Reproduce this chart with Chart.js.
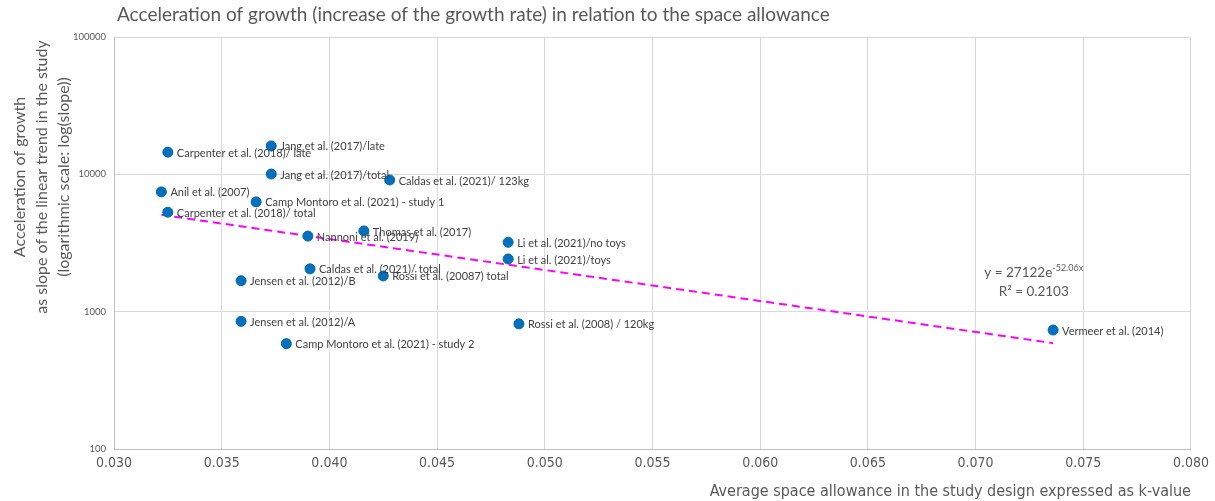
<!DOCTYPE html>
<html>
<head>
<meta charset="utf-8">
<script src="https://cdn.jsdelivr.net/npm/chart.js@4"></script>
<style>
  html, body { margin: 0; padding: 0; background: #fff; }
  #wrap { width: 1215px; height: 501px; }
</style>
</head>
<body>
<div id="wrap"><canvas id="myChart" width="1215" height="501"></canvas></div>
<script>
// study labels, k-values and acceleration of growth (slope)
const studies = [
  'Carpenter et al. (2018)/ late', 'Jang et al. (2017)/late', 'Jang et al. (2017)/total',
  'Caldas et al. (2021)/ 123kg', 'Anil et al. (2007)', 'Camp Montoro et al. (2021) - study 1',
  'Carpenter et al. (2018)/ total', 'Nannoni et al. (2019)', 'Thomas et al. (2017)',
  'Li et al. (2021)/no toys', 'Li et al. (2021)/toys', 'Caldas et al. (2021)/ total',
  'Rossi et al. (20087) total', 'Jensen et al. (2012)/B', 'Jensen et al. (2012)/A',
  'Rossi et al. (2008) / 120kg', 'Camp Montoro et al. (2021) - study 2', 'Vermeer et al. (2014)'
];
const kValues = [0.0325, 0.0373, 0.0373, 0.0428, 0.0322, 0.0366, 0.0325, 0.0390, 0.0416,
  0.0483, 0.0483, 0.0391, 0.0425, 0.0359, 0.0359, 0.0488, 0.0380, 0.0736];
const slopes = [14500, 16100, 10050, 9100, 7450, 6300, 5300, 3550, 3870,
  3200, 2420, 2050, 1820, 1680, 850, 815, 585, 735];

// exponential trend line end points (straight on log axis)
const trendX = [0.0322, 0.0736];
const trendY = [5070, 590];
const trendText = ['y = 27122e', '-52.06x', 'R² = 0.2103'];

const xTicks = [0.030, 0.035, 0.040, 0.045, 0.050, 0.055, 0.060, 0.065, 0.070, 0.075, 0.080];
const yTicks = [100, 1000, 10000, 100000];

const chartTitle = 'Acceleration of growth (increase of the growth rate) in relation to the space allowance';
const yTitle = ['Acceleration of growth', 'as slope of the linear trend in the study', '(logarithmic scale: log(slope))'];

const grey = '#595959';
const bodyFont = "Lato, 'Open Sans', sans-serif";
const narrowFont = "'Liberation Sans Narrow', 'DejaVu Sans Condensed', sans-serif";

const pointLabels = {
  id: 'pointLabels',
  afterDatasetsDraw(chart) {
    const ctx = chart.ctx;
    const meta = chart.getDatasetMeta(0);
    ctx.save();
    ctx.font = '11px ' + bodyFont;
    ctx.fillStyle = '#404040';
    ctx.textBaseline = 'middle';
    ctx.textAlign = 'left';
    meta.data.forEach((pt, i) => {
      ctx.fillText(studies[i], pt.x + 9, pt.y + 1);
    });
    ctx.restore();
  },
  afterDraw(chart) {
    const ctx = chart.ctx;
    const area = chart.chartArea;
    const xs = chart.scales.x, ys = chart.scales.y;
    ctx.save();
    // chart title
    ctx.font = '19px ' + bodyFont;
    ctx.fillStyle = grey;
    ctx.textBaseline = 'middle';
    ctx.textAlign = 'left';
    ctx.fillText(chartTitle, area.left + 3, 15);

    // y axis title, three centred lines
    ctx.save();
    ctx.translate(20, 177);
    ctx.rotate(-Math.PI / 2);
    ctx.font = '16px ' + bodyFont;
    ctx.textAlign = 'center';
    yTitle.forEach((line, i) => ctx.fillText(line, 0, i * 22));
    ctx.restore();

    // trend equation
    const ex = xs.getPixelForValue(0.0727);
    const ey = ys.getPixelForValue(1910);
    ctx.font = '13.5px ' + bodyFont;
    const w1 = ctx.measureText(trendText[0]).width;
    ctx.font = '9px ' + bodyFont;
    const w2 = ctx.measureText(trendText[1]).width;
    const startX = ex - (w1 + w2) / 2;
    ctx.font = '13.5px ' + bodyFont;
    ctx.fillText(trendText[0], startX, ey);
    ctx.font = '9px ' + bodyFont;
    ctx.fillText(trendText[1], startX + w1, ey - 5);
    ctx.font = '13.5px ' + bodyFont;
    ctx.textAlign = 'center';
    ctx.fillText(trendText[2], ex, ey + 19);
    ctx.restore();
  }
};

const ctx = document.querySelector('#myChart').getContext('2d');
const myChart = new Chart(ctx, {
  type: 'scatter',
  data: {
    datasets: [{
      label: 'Studies',
      data: kValues.map((k, i) => ({ x: k, y: slopes[i] })),
      backgroundColor: '#0070C0',
      borderColor: '#0067b0',
      borderWidth: 1,
      pointRadius: 5,
      order: 1
    }, {
      label: 'Trend',
      data: trendX.map((k, i) => ({ x: k, y: trendY[i] })),
      showLine: true,
      borderColor: '#FF00FF',
      borderWidth: 2,
      borderDash: [8, 5],
      pointRadius: 0,
      order: 2
    }]
  },
  options: {
    responsive: false,
    animation: false,
    layout: { padding: { top: 37, right: 23, left: 0, bottom: 0 } },
    plugins: {
      legend: { display: false },
      tooltip: { enabled: false }
    },
    scales: {
      x: {
        type: 'linear',
        min: 0.03,
        max: 0.08,
        afterBuildTicks: (scale) => { scale.ticks = xTicks.map(v => ({ value: v })); },
        afterFit: (scale) => { scale.height = 52; },
        ticks: {
          callback: (v) => Number(v).toFixed(3),
          color: grey,
          font: { family: narrowFont, size: 14 },
          padding: 6,
          maxRotation: 0
        },
        grid: { color: '#d9d9d9', drawTicks: false },
        border: { color: '#bfbfbf' },
        title: {
          display: true,
          text: 'Average space allowance in the study design expressed as k-value',
          align: 'end',
          color: grey,
          font: { family: narrowFont, size: 16 },
          padding: { top: 2, bottom: 0 }
        }
      },
      y: {
        type: 'logarithmic',
        min: 100,
        max: 100000,
        afterBuildTicks: (scale) => { scale.ticks = yTicks.map(v => ({ value: v })); },
        afterFit: (scale) => { scale.width = 114; },
        ticks: {
          callback: (v) => String(v),
          color: grey,
          font: { family: bodyFont, size: 9.5 },
          padding: 8
        },
        grid: { color: '#d9d9d9', drawTicks: false },
        border: { color: '#bfbfbf' }
      }
    }
  },
  plugins: [pointLabels]
});
</script>
</body>
</html>
